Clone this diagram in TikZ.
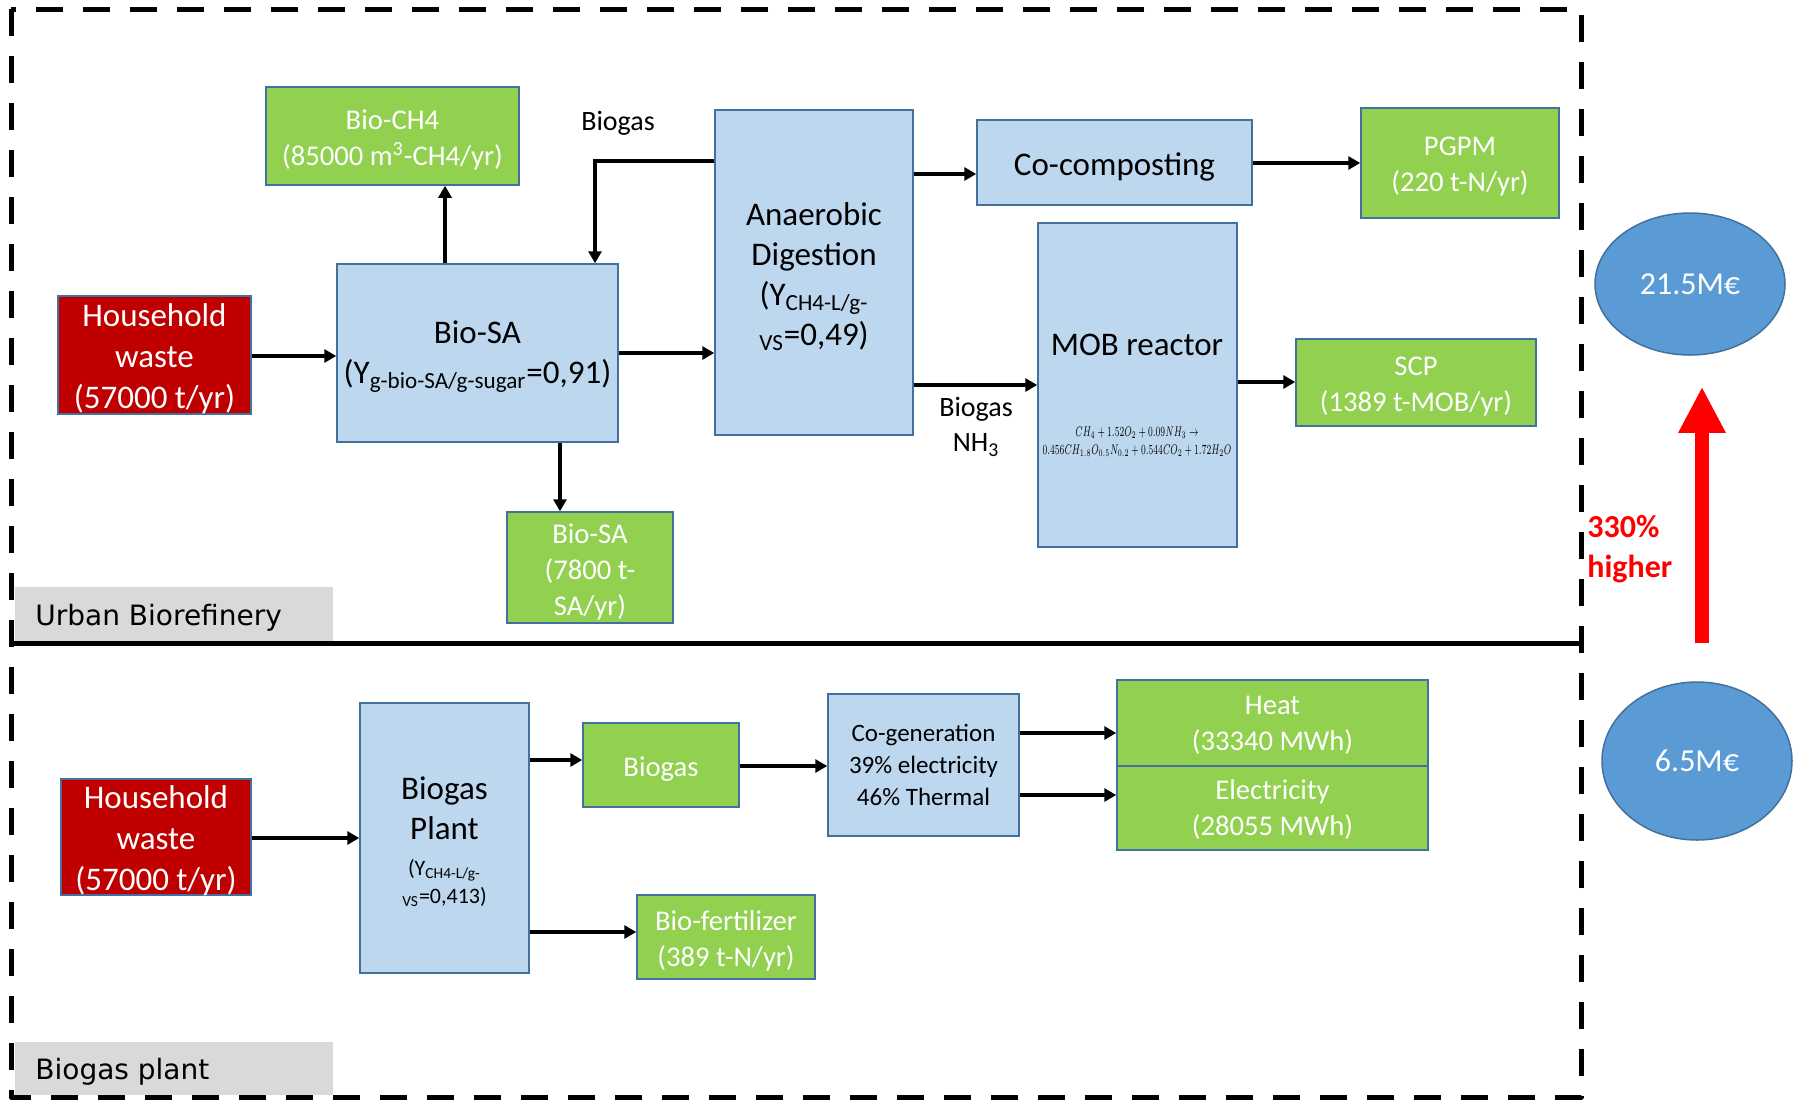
\documentclass[tikz,border=0pt]{standalone}
\usepackage{fontspec}
\usepackage{graphicx}
\setmainfont{Carlito}
\newfontfamily\tabfont{DejaVu Sans}
\usetikzlibrary{arrows.meta,shapes.geometric}

\definecolor{boxblue}{HTML}{BDD7EE}
\definecolor{edgeblue}{HTML}{41719C}
\definecolor{prodgreen}{HTML}{92D050}
\definecolor{wastered}{HTML}{C00000}
\definecolor{costblue}{HTML}{5B9BD5}
\definecolor{tabgray}{HTML}{D9D9D9}

% a box (#2 = kind, #3 = name, #4 = centre, #5 x #6 = size in pt) with its text,
% the text sitting #1 off the box centre
\newcommand\placebox[7][-2pt]{%
  \node[#2, minimum width=#5pt, minimum height=#6pt] (#3) at #4 {};
  \node[#2 text] (#3 text) at ([yshift=#1]#3.center) {#7};}

\begin{document}
\begin{tikzpicture}[x=0.5pt,y=-0.5pt,
  base/.style={draw=edgeblue, line width=0.75pt, inner sep=0pt},
  base text/.style={inner sep=0pt, align=center},
  process/.style={base, fill=boxblue},
  process text/.style={base text, text=black, font=\fontsize{16.5}{20}\selectfont},
  product/.style={base, fill=prodgreen},
  product text/.style={base text, text=white, font=\fontsize{14.3}{18}\selectfont},
  waste/.style={base, fill=wastered},
  waste text/.style={base text, text=white, font=\fontsize{16.5}{20.5}\selectfont},
  cost/.style={ellipse, draw=edgeblue, line width=0.75pt, fill=costblue, text=white,
    inner sep=0pt, font=\fontsize{16}{19}\selectfont},
  flow/.style={line width=2pt, -{Triangle[length=6pt,width=6.5pt]}},
  bigflow/.style={line width=7pt, draw=red, -{Triangle[length=23pt,width=22pt]}},
  tab/.style={fill=tabgray, inner sep=0pt},
  tabtext/.style={font=\tabfont\fontsize{14}{17}\selectfont, anchor=west, inner sep=0pt},
  frame/.style={line width=2.5pt, dash pattern=on 13.5pt off 10pt, line join=round},
  flowlabel/.style={font=\fontsize{14}{17.5}\selectfont, align=center, inner sep=0pt},
]
\useasboundingbox (0,0) rectangle (1800,1099);

% section frames
\draw[frame] (11,9) rectangle (1581,1097);
\draw[line width=2.5pt, line join=round] (11,643) -- (1581,643);

% section tabs
\node[tab, minimum width=159pt, minimum height=27pt] (tabub) at (174,614) {};
\node[tabtext] (tabubtext) at (35,618) {Urban Biorefinery};
\node[tab, minimum width=159pt, minimum height=26.5pt] (tabbp) at (174,1068.5) {};
\node[tabtext] (tabbptext) at (35,1072) {Biogas plant};

% ---- urban biorefinery ----
\placebox{waste}{hw1}{(154.5,355)}{96.5}{59}{Household\\waste\\(57000 t/yr)}
\placebox{process}{biosa}{(477.5,353)}{140.5}{89}
  {Bio-SA\\(Y\textsubscript{g-bio-SA/g-sugar}=0,91)}
\placebox{product}{ch4}{(392.5,136)}{126.5}{49}
  {Bio-CH4\\(85000 m\textsuperscript{3}-CH4/yr)}
\placebox{product}{saout}{(590,567.5)}{83}{55.5}{Bio-SA\\(7800 t-\\SA/yr)}
\placebox{process}{ad}{(814,272.5)}{99}{162.5}
  {Anaerobic\\Digestion\\(Y\textsubscript{CH4-L/g-}\\\textsubscript{VS}=0,49)}
\placebox{process}{cocomp}{(1114.5,162.5)}{137.5}{42.5}{Co-composting}
\placebox{product}{pgpm}{(1460,163)}{99}{55}{PGPM\\(220 t-N/yr)}
\node[process, minimum width=99.5pt, minimum height=162pt] (mob) at (1137.5,385) {};
\node[process text] (mobtitle) at (1137,345) {MOB reactor};
\node[inner sep=0pt, align=center, font=\fontsize{7.5}{9}\selectfont] (mobeq) at (1137,442)
  {\scalebox{0.6}[1]{$CH_4+1.52O_2+0.09NH_3\rightarrow$}\\
   \scalebox{0.6}[1]{$0.456CH_{1.8}O_{0.5}N_{0.2}+0.544CO_2+1.72H_2O$}};
\placebox{product}{scp}{(1416,382.5)}{120}{43.5}{SCP\\(1389 t-MOB/yr)}

\node[flowlabel] (lbgas) at (618,123) {Biogas};
\node[flowlabel] (lbgasnh) at (976,427) {Biogas\\NH\textsubscript{3}};

\draw[flow] (hw1.east |- 0,356) -- (biosa.west |- 0,356);
\draw[flow] (biosa.north -| 445,0) -- (ch4.south -| 445,0);
\draw[flow] (biosa.south -| 560,0) -- (saout.north -| 560,0);
\draw[flow] (biosa.east |- 0,353) -- (ad.west |- 0,353);
\draw[flow] (ad.west |- 0,161) -| (biosa.north -| 595,0);
\draw[flow] (ad.east |- 0,174) -- (cocomp.west |- 0,174);
\draw[flow] (ad.east |- 0,385) -- (mob.west |- 0,385);
\draw[flow] (cocomp.east |- 0,163) -- (pgpm.west |- 0,163);
\draw[flow] (mob.east |- 0,382) -- (scp.west |- 0,382);

% ---- biogas plant ----
\placebox{waste}{hw2}{(156,837)}{95}{58}{Household\\waste\\(57000 t/yr)}
\placebox{process}{bp}{(444.5,838)}{84.5}{135}
  {Biogas\\Plant\\[-2pt]{\fontsize{11}{12.5}\selectfont (Y\textsubscript{CH4-L/g-}}\\[-6pt]
   {\fontsize{11}{12.5}\selectfont \textsubscript{VS}=0,413)}}
\placebox{product}{biogas}{(661,765)}{78}{42}{Biogas}
\node[process, minimum width=95.5pt, minimum height=71pt] (cogen) at (923.5,765) {};
\node[process text, font=\fontsize{12.5}{16}\selectfont] (cogen text) at (cogen.center)
  {Co-generation\\39\% electricity\\46\% Thermal};
\placebox[-1pt]{product}{heat}{(1272.5,723)}{155.5}{43}{Heat\\(33340 MWh)}
\placebox[-1pt]{product}{elec}{(1272.5,808)}{155.5}{42}{Electricity\\(28055 MWh)}
\placebox{product}{biofert}{(726,937)}{89}{42}{Bio-fertilizer\\(389 t-N/yr)}

\draw[flow] (hw2.east |- 0,838) -- (bp.west |- 0,838);
\draw[flow] (bp.east |- 0,760) -- (biogas.west |- 0,760);
\draw[flow] (bp.east |- 0,932) -- (biofert.west |- 0,932);
\draw[flow] (biogas.east |- 0,766) -- (cogen.west |- 0,766);
\draw[flow] (cogen.east |- 0,733) -- (heat.west |- 0,733);
\draw[flow] (cogen.east |- 0,795) -- (elec.west |- 0,795);

% ---- revenues ----
\node[cost, minimum width=95pt, minimum height=71pt] (e215) at (1690,284) {21.5M€};
\node[cost, minimum width=95pt, minimum height=79pt] (e65) at (1697,761) {6.5M€};
\draw[bigflow] ([xshift=2.5pt,yshift=19pt]e65.north) -- ([xshift=6pt,yshift=-15.5pt]e215.south);
\node[anchor=west, inner sep=0pt, align=left, text=red,
  font=\bfseries\fontsize{16}{20}\selectfont] (gain) at (1587,549) {330\%\\higher};
\end{tikzpicture}
\end{document}
